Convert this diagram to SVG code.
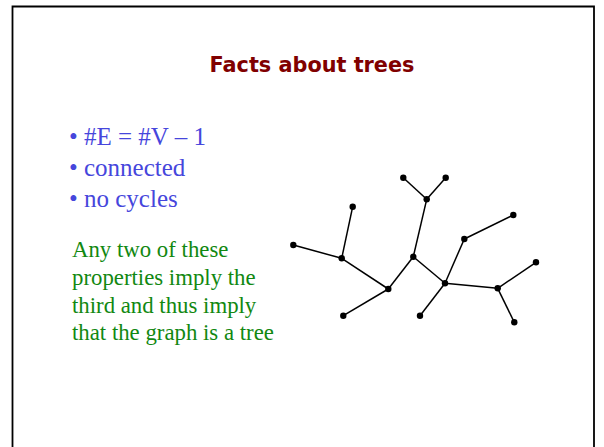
<svg xmlns="http://www.w3.org/2000/svg" width="604" height="447" viewBox="0 0 604 447">
<style>
.title{font-family:"DejaVu Sans","Liberation Sans",sans-serif;font-weight:bold;font-size:20.8px;fill:#800000}
.bul{font-family:"Liberation Serif",serif;font-size:25px;fill:#4646dc}
.grn{font-family:"Liberation Serif",serif;font-size:22.8px;fill:#118811}
.e{stroke:#000;stroke-width:1.5;fill:none}
.n{fill:#000}
</style>
<rect width="604" height="447" fill="#fff"/>
<path d="M12.5 460 V6.5 H594 V460" fill="none" stroke="#000" stroke-width="1.8"/>
<text class="title" x="312" y="72" text-anchor="middle">Facts about trees</text>
<g id="bullets">
<text class="bul" x="69" y="145">• #E = #V – 1</text>
<text class="bul" x="69" y="176">• connected</text>
<text class="bul" x="69" y="207">• no cycles</text>
</g>
<g id="note">
<text class="grn" x="72" y="257">Any two of these</text>
<text class="grn" x="72" y="285">properties imply the</text>
<text class="grn" x="72" y="313">third and thus imply</text>
<text class="grn" x="72" y="340">that the graph is a tree</text>
</g>
<g id="edges" class="e">
<line x1="293.3" y1="245" x2="341.7" y2="258.3"/>
<line x1="352.7" y1="206.7" x2="341.7" y2="258.3"/>
<line x1="341.7" y1="258.3" x2="388.3" y2="289"/>
<line x1="343.3" y1="315.7" x2="388.3" y2="289"/>
<line x1="388.3" y1="289" x2="413.3" y2="256.7"/>
<line x1="413.3" y1="256.7" x2="426.7" y2="199.3"/>
<line x1="426.7" y1="199.3" x2="403.3" y2="177.7"/>
<line x1="426.7" y1="199.3" x2="445.7" y2="177.7"/>
<line x1="413.3" y1="256.7" x2="445" y2="283.3"/>
<line x1="445" y1="283.3" x2="464.3" y2="239"/>
<line x1="464.3" y1="239" x2="513.3" y2="215"/>
<line x1="445" y1="283.3" x2="420" y2="315.7"/>
<line x1="445" y1="283.3" x2="497.7" y2="288.3"/>
<line x1="497.7" y1="288.3" x2="536" y2="262.3"/>
<line x1="497.7" y1="288.3" x2="514.3" y2="322.3"/>
</g>
<g id="n1"><circle class="n" cx="293.3" cy="245" r="3.2"/></g>
<g id="n2"><circle class="n" cx="341.7" cy="258.3" r="3.2"/></g>
<g id="n3"><circle class="n" cx="352.7" cy="206.7" r="3.2"/></g>
<g id="n4"><circle class="n" cx="388.3" cy="289" r="3.2"/></g>
<g id="n5"><circle class="n" cx="343.3" cy="315.7" r="3.2"/></g>
<g id="n6"><circle class="n" cx="413.3" cy="256.7" r="3.2"/></g>
<g id="n7"><circle class="n" cx="426.7" cy="199.3" r="3.2"/></g>
<g id="n8"><circle class="n" cx="403.3" cy="177.7" r="3.2"/></g>
<g id="n9"><circle class="n" cx="445.7" cy="177.7" r="3.2"/></g>
<g id="n10"><circle class="n" cx="445" cy="283.3" r="3.2"/></g>
<g id="n11"><circle class="n" cx="464.3" cy="239" r="3.2"/></g>
<g id="n12"><circle class="n" cx="513.3" cy="215" r="3.2"/></g>
<g id="n13"><circle class="n" cx="420" cy="315.7" r="3.2"/></g>
<g id="n14"><circle class="n" cx="497.7" cy="288.3" r="3.2"/></g>
<g id="n15"><circle class="n" cx="536" cy="262.3" r="3.2"/></g>
<g id="n16"><circle class="n" cx="514.3" cy="322.3" r="3.2"/></g>
</svg>
